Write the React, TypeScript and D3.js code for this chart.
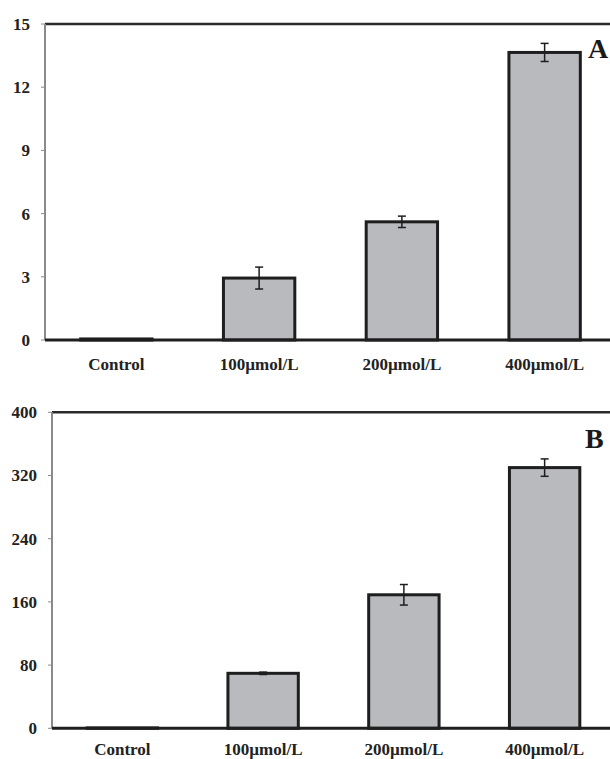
import React from "react";
import * as d3 from "d3";

const categories = ["Control", "100µmol/L", "200µmol/L", "400µmol/L"];
const valuesA = [0.05, 2.94, 5.61, 13.65];
const errorsA = [0, 0.52, 0.27, 0.43];
const ticksA = [0, 3, 6, 9, 12, 15];
const valuesB = [0.5, 69.6, 169, 330];
const errorsB = [0, 1.5, 13, 11];
const ticksB = [0, 80, 160, 240, 320, 400];

const FONT = "'Liberation Serif', 'Times New Roman', serif";

type PanelProps = {
  values: number[];
  errors: number[];
  ticks: number[];
  max: number;
  axisX: number;
  rightX: number;
  top: number;
  bottom: number;
  labelY: number;
  letter: string;
  letterX: number;
  letterY: number;
};

function Panel(p: PanelProps) {
  const x = d3.scaleBand<string>().domain(categories).range([p.axisX, p.rightX]).paddingInner(0.5).paddingOuter(0.25);
  const y = d3.scaleLinear().domain([0, p.max]).range([p.bottom, p.top]);
  const bw = x.bandwidth();
  return (
    <g>
      {p.ticks.map((t) => (
        <g key={t}>
          <line x1={p.axisX - 4} x2={p.axisX} y1={y(t)} y2={y(t)} stroke="#8a8a8a" strokeWidth={1} />
          <text
            x={p.axisX - 15}
            y={y(t)}
            dy="0.35em"
            textAnchor="end"
            fontFamily={FONT}
            fontWeight="bold"
            fontSize={17}
            fill="#222"
          >
            {t}
          </text>
        </g>
      ))}
      <line x1={p.axisX} x2={620} y1={y(p.max)} y2={y(p.max)} stroke="#2a2a2a" strokeWidth={2.5} />
      <line x1={p.axisX} x2={p.axisX} y1={y(p.max)} y2={y(0)} stroke="#8a8a8a" strokeWidth={2} />
      {categories.map((c, i) => {
        const bx = x(c)!;
        const top = y(p.values[i]);
        const cx = bx + bw / 2;
        return (
          <g key={c}>
            <rect
              x={bx}
              y={top}
              width={bw}
              height={y(0) - top}
              fill="#b9babd"
              stroke="#1e1e1e"
              strokeWidth={3}
            />
            {p.errors[i] > 0 && (
              <g stroke="#1e1e1e" strokeWidth={1.5}>
                <line x1={cx} x2={cx} y1={y(p.values[i] + p.errors[i])} y2={y(p.values[i] - p.errors[i])} />
                <line x1={cx - 4} x2={cx + 4} y1={y(p.values[i] + p.errors[i])} y2={y(p.values[i] + p.errors[i])} />
                <line x1={cx - 4} x2={cx + 4} y1={y(p.values[i] - p.errors[i])} y2={y(p.values[i] - p.errors[i])} />
              </g>
            )}
            <text
              x={cx}
              y={p.labelY}
              textAnchor="middle"
              fontFamily={FONT}
              fontWeight="bold"
              fontSize={17}
              fill="#222"
            >
              {c}
            </text>
          </g>
        );
      })}
      <line x1={p.axisX} x2={620} y1={y(0)} y2={y(0)} stroke="#1e1e1e" strokeWidth={3} />
      <text x={p.letterX} y={p.letterY} fontFamily={FONT} fontWeight="bold" fontSize={28} fill="#1a1a1a">
        {p.letter}
      </text>
    </g>
  );
}

export default function App() {
  return (
    <svg
      width={610}
      height={759}
      style={{ position: "absolute", left: 0, top: 0, background: "#fff" }}
    >
      <rect width={610} height={759} fill="#fff" />
      <Panel
        values={valuesA}
        errors={errorsA}
        ticks={ticksA}
        max={15}
        axisX={45}
        rightX={616}
        top={24}
        bottom={340}
        labelY={370}
        letter="A"
        letterX={588}
        letterY={58}
      />
      <Panel
        values={valuesB}
        errors={errorsB}
        ticks={ticksB}
        max={400}
        axisX={52}
        rightX={615}
        top={412.3}
        bottom={728.3}
        labelY={755}
        letter="B"
        letterX={585}
        letterY={448}
      />
    </svg>
  );
}
